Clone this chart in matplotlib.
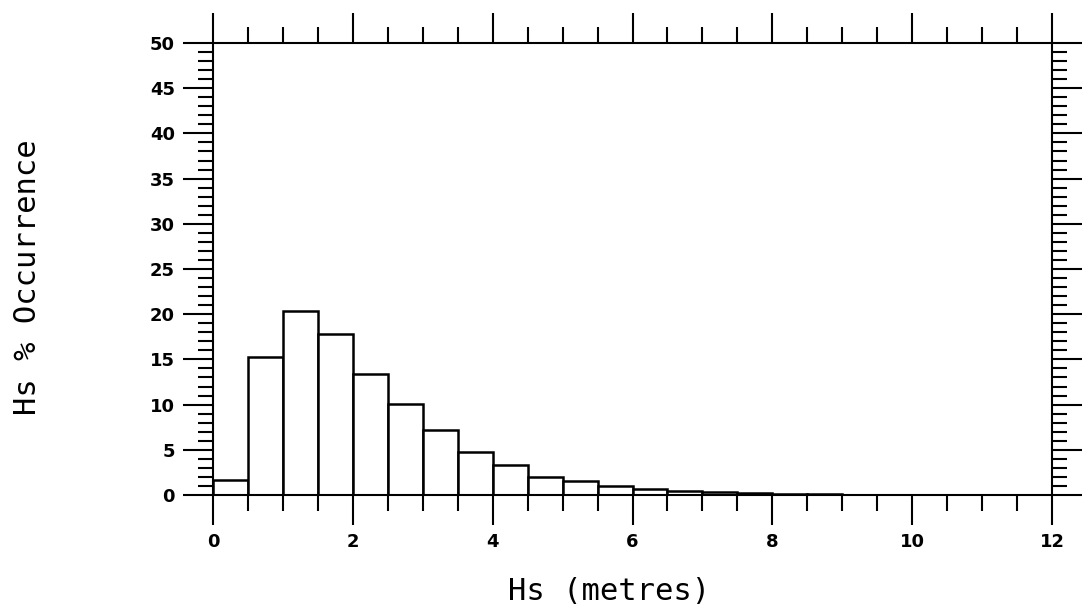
import numpy as np
import matplotlib
matplotlib.use('Agg')
import matplotlib.pyplot as plt
from matplotlib.ticker import MultipleLocator

# Histogram of significant wave height, 0.5 m bins
bin_start = [0.0, 0.5, 1.0, 1.5, 2.0, 2.5, 3.0, 3.5, 4.0, 4.5, 5.0, 5.5,
             6.0, 6.5, 7.0, 7.5, 8.0, 8.5, 9.0, 9.5, 10.0, 10.5, 11.0, 11.5]
occurrence = [1.7, 15.3, 20.3, 17.8, 13.4, 10.1, 7.2, 4.8, 3.3, 2.0, 1.5, 1.0,
              0.65, 0.4, 0.3, 0.2, 0.12, 0.08, 0.05, 0.03, 0.02, 0.01, 0.01, 0.01]
bin_width = 0.5

x_label = 'Hs (metres)'
y_label = 'Hs % Occurrence'

# tick styling through rcParams so the ticks get it when they are built
plt.rcParams.update({
    'font.weight': 'bold',
    'xtick.direction': 'out', 'ytick.direction': 'out',
    'xtick.top': True, 'ytick.right': True,
    'xtick.major.size': 21.5, 'xtick.minor.size': 11.5,
    'ytick.major.size': 21.5, 'ytick.minor.size': 11,
    'xtick.major.width': 1.5, 'xtick.minor.width': 1.5,
    'ytick.major.width': 1.5, 'ytick.minor.width': 1.5,
    'xtick.major.pad': 6, 'ytick.major.pad': 6,
    'xtick.labelsize': 13, 'ytick.labelsize': 13,
    'axes.linewidth': 1.5,
})

fig = plt.figure(figsize=(10.82, 6.13), dpi=100)
ax = fig.add_axes([213 / 1082, 1 - 495 / 613, (1052 - 213) / 1082, (495 - 43) / 613])

ax.bar(bin_start, occurrence, width=bin_width, align='edge',
       facecolor='white', edgecolor='black', linewidth=1.8)

ax.set_xlim(0, 12)
ax.set_ylim(0, 50)

ax.xaxis.set_major_locator(MultipleLocator(2))
ax.xaxis.set_minor_locator(MultipleLocator(0.5))
ax.yaxis.set_major_locator(MultipleLocator(5))
ax.yaxis.set_minor_locator(MultipleLocator(1))

fig.text(609 / 1082, 1 - 592 / 613, x_label, ha='center', va='center',
         family='DejaVu Sans Mono', fontweight='normal', fontsize=22)
fig.text(28 / 1082, 1 - 277 / 613, y_label, ha='center', va='center', rotation=90,
         family='DejaVu Sans Mono', fontweight='normal', fontsize=22)

fig.savefig('out.png', dpi=100, facecolor='white')
